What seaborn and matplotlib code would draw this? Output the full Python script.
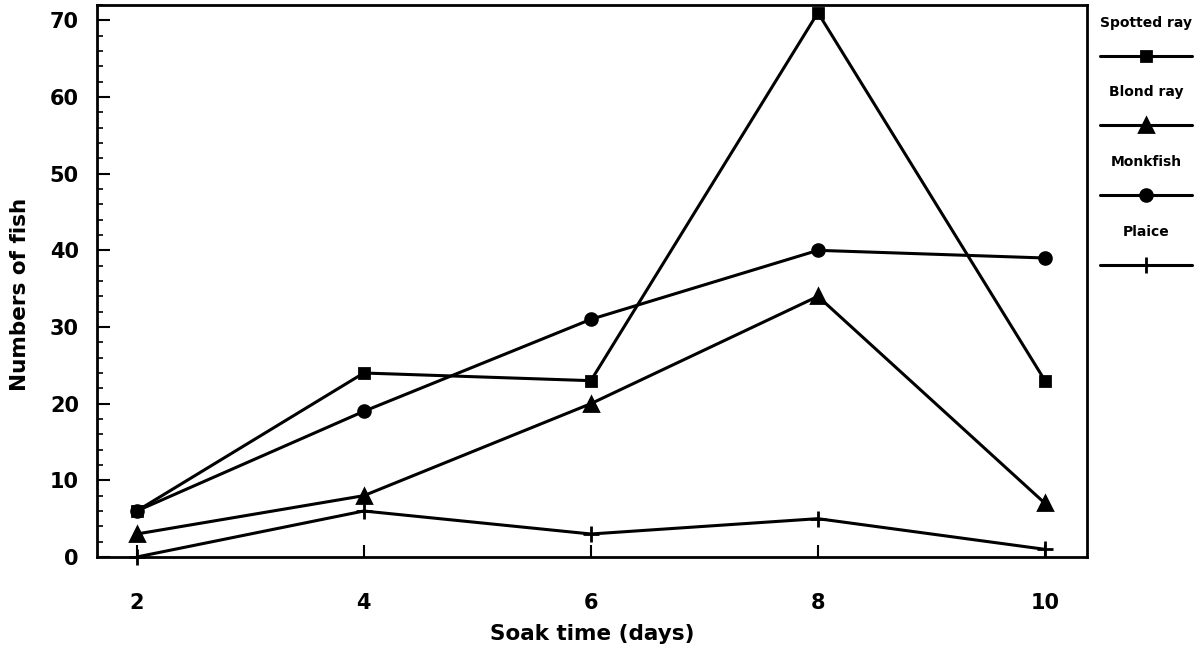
import matplotlib
matplotlib.use("Agg")
import matplotlib.pyplot as plt
import seaborn as sns
import pandas as pd
from matplotlib.lines import Line2D
from matplotlib.ticker import MultipleLocator

soak_days = [2, 4, 6, 8, 10]
spotted_ray = [6, 24, 23, 71, 23]
blond_ray = [3, 8, 20, 34, 7]
monkfish = [6, 19, 31, 40, 39]
plaice = [0, 6, 3, 5, 1]
species = ["Spotted ray", "Blond ray", "Monkfish", "Plaice"]
marker_map = {"Spotted ray": "s", "Blond ray": "^", "Monkfish": "o", "Plaice": "+"}
size_map = {"Spotted ray": 7.5, "Blond ray": 9.5, "Monkfish": 8.5, "Plaice": 11}

rows = []
for name, vals in zip(species, [spotted_ray, blond_ray, monkfish, plaice]):
    for d, v in zip(soak_days, vals):
        rows.append({"Soak time (days)": d, "Numbers of fish": v, "species": name})
df = pd.DataFrame(rows)

sns.set_theme(style="white")
plt.rcParams["font.family"] = ["DejaVu Sans"]
plt.rcParams["font.weight"] = "bold"
plt.rcParams["text.color"] = "black"
plt.rcParams["axes.labelcolor"] = "black"
plt.rcParams["xtick.color"] = "black"
plt.rcParams["ytick.color"] = "black"

fig = plt.figure(figsize=(12, 6.51), dpi=100)
ax = fig.add_axes([97/1200, 1-557/651, (1087-97)/1200, (557-5)/651])

for name in species:
    sns.lineplot(data=df[df["species"] == name], x="Soak time (days)", y="Numbers of fish",
                 color="black", marker=marker_map[name], linewidth=2.2,
                 markersize=size_map[name], markeredgewidth=2, markeredgecolor="black",
                 ax=ax, legend=False, clip_on=False, zorder=3)

ax.set_xlim(1.65, 10.37)
ax.set_ylim(0, 72)
ax.set_xticks(soak_days)
ax.yaxis.set_major_locator(MultipleLocator(10))
ax.yaxis.set_minor_locator(MultipleLocator(2))
ax.tick_params(axis="x", direction="in", length=9, width=1.5, pad=26, labelsize=15,
               bottom=True, colors="black")
ax.tick_params(axis="y", which="major", direction="in", length=9, width=1.5, pad=13,
               labelsize=15, left=True, colors="black")
ax.tick_params(axis="y", which="minor", direction="in", length=4, width=1.2, left=True,
               colors="black")
for lab in ax.get_xticklabels() + ax.get_yticklabels():
    lab.set_fontweight("bold")
for sp in ax.spines.values():
    sp.set_linewidth(2)
    sp.set_color("black")
ax.set_xlabel("Soak time (days)", fontsize=15.5, fontweight="bold", labelpad=8, color="black")
ax.set_ylabel("Numbers of fish", fontsize=15.5, fontweight="bold", color="black")
ax.yaxis.set_label_coords(-0.068, 0.475)

# legend: each title above its line sample
leg_tops = [5, 74, 144, 214]
for name, top in zip(species, leg_tops):
    h = Line2D([], [], color="black", linewidth=2.2, marker=marker_map[name],
               markersize=size_map[name], markeredgewidth=2, markeredgecolor="black")
    lg = fig.legend(handles=[h], labels=[""], title=name, frameon=False,
                    loc="upper center", bbox_to_anchor=(1146/1200, 1-top/651),
                    handlelength=6.0, handletextpad=0, borderpad=0.2,
                    title_fontproperties={"weight": "bold", "size": 10})
    lg.get_title().set_color("black")
    lg._legend_box.sep = 14

fig.savefig("out.png", dpi=100)
